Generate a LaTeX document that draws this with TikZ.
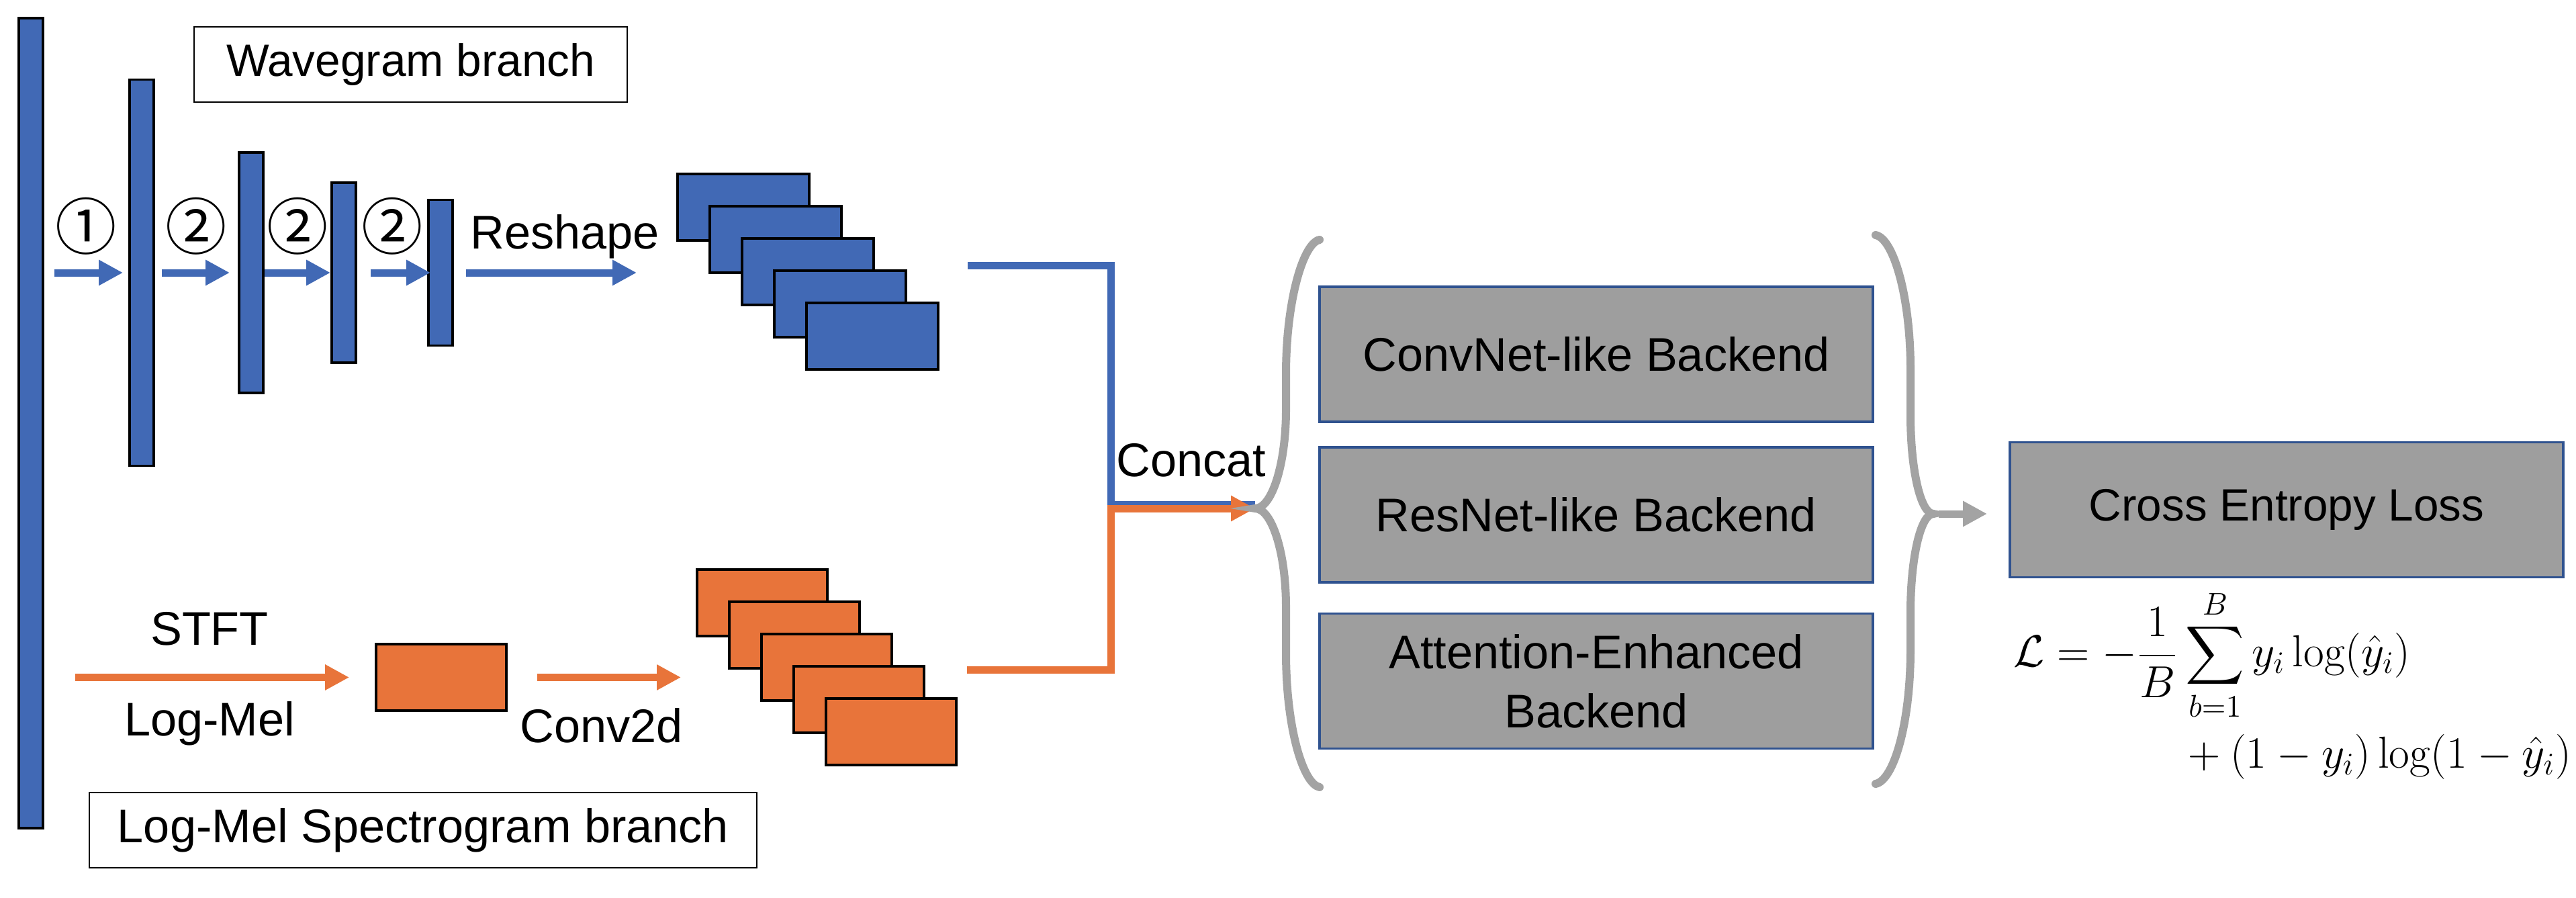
\RequirePackage{fix-cm}
\documentclass[tikz,border=0pt]{standalone}
\usepackage{amsmath}
\usepackage[no-math]{fontspec}
\setmainfont{Liberation Sans}
\newfontfamily\circfont{Noto Sans CJK JP}
\usepackage{xcolor}
\usepackage{tikz}
\usetikzlibrary{arrows.meta, positioning}

\definecolor{wgblue}{HTML}{4169B5}
\definecolor{lmorange}{HTML}{E8743A}
\definecolor{bkgray}{HTML}{9E9E9E}
\definecolor{brgray}{HTML}{A3A3A3}
\definecolor{bkedge}{HTML}{2F528F}

\begin{document}
\begin{tikzpicture}[
    % Layers
    wbar/.style={rectangle, draw=black, line width=1.1pt, fill=wgblue, minimum width=0.36cm, inner sep=0pt},
    wfmap/.style={rectangle, draw=black, line width=1.1pt, fill=wgblue, minimum width=1.96cm, minimum height=0.99cm, anchor=north west, inner sep=0pt},
    lfmap/.style={wfmap, fill=lmorange, minimum width=1.94cm},
    % Boxes and text
    tag/.style={rectangle, draw=black, line width=0.8pt, inner sep=0pt, minimum height=1.12cm, font=\fontsize{20}{24}\selectfont},
    backend/.style={rectangle, draw=bkedge, line width=1.1pt, fill=bkgray, minimum width=8.24cm, minimum height=2.01cm, align=center, font=\fontsize{20}{25}\selectfont},
    lbl/.style={font=\fontsize{20}{24}\selectfont, inner sep=0pt},
    num/.style={font=\circfont\fontsize{26}{28}\selectfont, inner sep=0pt},
    % Arrows and lines
    warrow/.style={draw=wgblue, line width=0.11cm, -{Triangle[length=0.36cm, width=0.36cm]}},
    larrow/.style={warrow, draw=lmorange},
    garrow/.style={warrow, draw=brgray},
    wline/.style={draw=wgblue, line width=0.11cm},
    brace/.style={draw=brgray, line width=0.12cm, line cap=round}
]
    \useasboundingbox (0,0) rectangle (38.36,-13.36);

    % Wavegram layers
    \node[wbar, minimum height=12.06cm] (b0) at (0.46,-6.30) {};
    \node[wbar, minimum height=5.75cm] (b1) at (2.11,-4.06) {};
    \node[wbar, minimum height=3.58cm] (b2) at (3.74,-4.06) {};
    \node[wbar, minimum height=2.68cm] (b3) at (5.12,-4.06) {};
    \node[wbar, minimum height=2.17cm] (b4) at (6.56,-4.06) {};

    % Feature maps
    \foreach \i in {0,...,4}
        \node[wfmap] (wf\i) at ({10.07+0.48*\i}, {-2.57-0.48*\i}) {};
    \node[lfmap, anchor=center] (lmsq) at (6.57,-10.085) {};
    \foreach \i in {0,...,4}
        \node[lfmap] (lf\i) at ({10.36+0.48*\i}, {-8.46-0.48*\i}) {};

    % Branch tags
    \node[tag, minimum width=6.45cm, font=\fontsize{19.2}{23}\selectfont] (wtag) at (6.115,-0.96) {Wavegram branch};
    \node[tag, minimum width=9.94cm] (ltag) at (6.30,-12.36) {Log-Mel Spectrogram branch};

    % Wavegram arrows
    \draw[warrow, shorten <=0.15cm, shorten >=0.08cm] (b0.east |- b1.west) -- (b1.west)
        node[num, midway, yshift=0.69cm] {①};
    \draw[warrow, shorten <=0.10cm, shorten >=0.12cm] (b1.east) -- (b2.west)
        node[num, midway, yshift=0.69cm] {②};
    \draw[warrow] (b2.east) -- (b3.west)
        node[num, midway, yshift=0.69cm] {②};
    \draw[warrow, shorten <=0.20cm, shorten >=-0.05cm] (b3.east) -- (b4.west)
        node[num, midway, yshift=0.69cm] {②};
    \draw[warrow, shorten <=0.18cm, shorten >=0.59cm] (b4.east) -- (b4.east -| wf0.west)
        node[lbl, pos=0, anchor=base west, xshift=0.19cm, yshift=0.36cm] {Reshape};

    % Log-Mel arrows
    \draw[larrow, shorten <=0.46cm, shorten >=0.38cm] (b0.east |- lmsq.west) -- (lmsq.west)
        node[lbl, midway, yshift=0.72cm] {STFT}
        node[lbl, midway, yshift=-0.69cm] {Log-Mel};
    \draw[larrow, shorten <=0.44cm, shorten >=0.22cm] (lmsq.east) -- (lmsq.east -| lf0.west)
        node[lbl, midway, yshift=-0.72cm] {Conv2d};

    % Backends
    \node[backend] (conv) at (23.77,-5.275) {ConvNet-like Backend};
    \node[backend] (res) at (23.77,-7.665) {ResNet-like Backend};
    \node[backend] (att) at (23.77,-10.14) {Attention-Enhanced\\Backend};
    \node[backend, font=\fontsize{19.2}{23}\selectfont] (ce) at (34.05,-7.59) {Cross Entropy Loss};

    % Concat
    \coordinate (wout) at (14.41,-3.95);
    \coordinate (lout) at (14.40,-9.97);
    \coordinate (join) at (16.54,-7.57);
    \coordinate (ltip) at (18.69,-7.57);
    \coordinate (rtip) at (28.79,-7.65);
    \draw[wline] (wout) -| ([yshift=0.06cm]join) -- ([yshift=0.06cm]ltip);
    \draw[larrow] (lout) -| (join) -- (ltip);
    \node[lbl, anchor=west] (cat) at (16.62,-6.85) {Concat};

    % Braces
    \draw[brace] (19.65,-3.57) .. controls (19.40,-3.62) and (19.15,-4.50) .. (19.15,-5.57)
        -- (19.15,-6.10) .. controls (19.15,-6.91) and (18.94,-7.57) .. (ltip)
        .. controls (18.94,-7.57) and (19.15,-8.23) .. (19.15,-9.04)
        -- (19.15,-9.72) .. controls (19.15,-10.82) and (19.40,-11.67) .. (19.65,-11.72);
    \draw[brace] (27.93,-3.50) .. controls (28.20,-3.55) and (28.45,-4.43) .. (28.45,-5.50)
        -- (28.45,-6.18) .. controls (28.45,-6.99) and (28.60,-7.65) .. (rtip)
        .. controls (28.60,-7.65) and (28.45,-8.31) .. (28.45,-9.12)
        -- (28.45,-9.67) .. controls (28.45,-10.77) and (28.20,-11.62) .. (27.93,-11.67);
    \draw[garrow, shorten <=0.08cm, shorten >=0.32cm] (rtip) -- (rtip -| ce.west);

    % Loss
    \node[below right=0.15cm and 0.07cm of ce.south west, inner sep=0pt, font=\fontsize{19}{23}\selectfont] (loss)
        {$\begin{aligned}\mathcal{L} = -\frac{1}{B} & \sum_{b=1}^{B} y_i \log(\hat{y}_i)\\
        & + (1-y_i)\log(1-\hat{y}_i)\end{aligned}$};
\end{tikzpicture}
\end{document}
